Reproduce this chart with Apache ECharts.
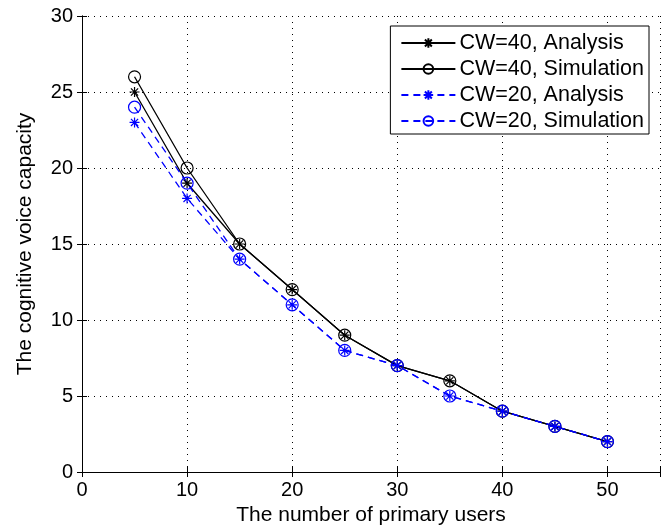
<!DOCTYPE html>
<html>
<head>
<meta charset="utf-8">
<script src="https://cdn.jsdelivr.net/npm/echarts@6/dist/echarts.min.js"></script>
<style>
  html, body { margin: 0; padding: 0; background: #fff; }
  #chart { width: 666px; height: 529px; }
</style>
</head>
<body>
<div id="chart"></div>
<script>
// number of primary users
let users = [5, 10, 15, 20, 25, 30, 35, 40, 45, 50]
let cw40Analysis = [25, 19, 15, 12, 9, 7, 6, 4, 3, 2]
let cw40Simulation = [26, 20, 15, 12, 9, 7, 6, 4, 3, 2]
let cw20Analysis = [23, 18, 14, 11, 8, 7, 5, 4, 3, 2]
let cw20Simulation = [24, 19, 14, 11, 8, 7, 5, 4, 3, 2]
let xTicks = [0, 10, 20, 30, 40, 50]
let yTicks = [0, 5, 10, 15, 20, 25, 30]

const font = '"Liberation Sans", Arial, sans-serif'
const star = 'path://M0,-5L0,5M-5,0L5,0M-3.6,-3.6L3.6,3.6M-3.6,3.6L3.6,-3.6'

function pairs(vals) {
  return users.map((u, i) => [u, vals[i]])
}

function makeSeries(name, vals, color, dashed, symbol) {
  return {
    name: name,
    type: 'line',
    data: pairs(vals),
    symbol: symbol,
    symbolSize: symbol === 'circle' ? 12 : 10,
    symbolKeepAspect: true,
    showAllSymbol: true,
    lineStyle: { color: color, width: 1.3, type: dashed ? [7, 5] : 'solid' },
    itemStyle: { color: 'transparent', borderColor: color, borderWidth: 1.2 },
    emphasis: { disabled: true },
    animation: false
  }
}

let chart = echarts.init(document.getElementById('chart'))
let axisCommon = {
  axisLine: { lineStyle: { color: '#000', width: 1 } },
  axisTick: { inside: true, length: 5, lineStyle: { color: '#000' } },
  axisLabel: { color: '#000', fontSize: 20, fontFamily: font }
}

let option = {
  backgroundColor: '#fff',
  textStyle: { fontFamily: font },
  grid: { left: 82, right: 6, top: 16, bottom: 57, outerBoundsMode: 'none' },
  legend: {
    orient: 'vertical',
    right: 17,
    top: 26,
    data: ['CW=40, Analysis', 'CW=40, Simulation', 'CW=20, Analysis', 'CW=20, Simulation'],
    backgroundColor: '#fff',
    borderColor: '#000',
    borderWidth: 1,
    borderRadius: 0,
    padding: [6, 5, 2, 10],
    itemGap: 4,
    itemWidth: 54,
    itemHeight: 12,
    textStyle: { color: '#000', fontSize: 21.5, lineHeight: 21, fontFamily: font, padding: [0, 0, 0, -1] }
  },
  xAxis: [{
    type: 'value',
    min: 0,
    max: 55,
    interval: 10,
    name: 'The number of primary users',
    nameLocation: 'middle',
    nameGap: 30,
    nameTextStyle: { color: '#000', fontSize: 21, fontFamily: font },
    ...axisCommon,
    axisLabel: {
      ...axisCommon.axisLabel,
      margin: 8,
      formatter: v => xTicks.includes(v) ? String(v) : ''
    },
    splitLine: { show: true, lineStyle: { color: '#000', type: [1, 5], width: 1 } }
  }, {
    type: 'value',
    position: 'top',
    min: 0,
    max: 55,
    interval: 10,
    axisLine: { lineStyle: { color: '#000' } },
    axisTick: { inside: true, length: 5, lineStyle: { color: '#000' } },
    axisLabel: { show: false },
    splitLine: { show: false }
  }],
  yAxis: [{
    type: 'value',
    min: 0,
    max: 30,
    interval: 5,
    name: 'The cognitive voice capacity',
    nameLocation: 'middle',
    nameGap: 46,
    nameTextStyle: { color: '#000', fontSize: 21, fontFamily: font },
    ...axisCommon,
    axisLabel: {
      ...axisCommon.axisLabel,
      margin: 9,
      formatter: v => yTicks.includes(v) ? String(v) : ''
    },
    splitLine: { show: true, lineStyle: { color: '#000', type: [1, 5], width: 1 } }
  }, {
    type: 'value',
    position: 'right',
    min: 0,
    max: 30,
    interval: 5,
    axisLine: { show: true, lineStyle: { color: '#000' } },
    axisTick: { show: true, inside: true, length: 5, lineStyle: { color: '#000' } },
    axisLabel: { show: false },
    splitLine: { show: false }
  }],
  series: [
    makeSeries('CW=40, Simulation', cw40Simulation, '#000', false, 'circle'),
    makeSeries('CW=40, Analysis', cw40Analysis, '#000', false, star),
    makeSeries('CW=20, Simulation', cw20Simulation, '#0000ff', true, 'circle'),
    makeSeries('CW=20, Analysis', cw20Analysis, '#0000ff', true, star)
  ]
}
chart.setOption(option)
</script>
</body>
</html>
